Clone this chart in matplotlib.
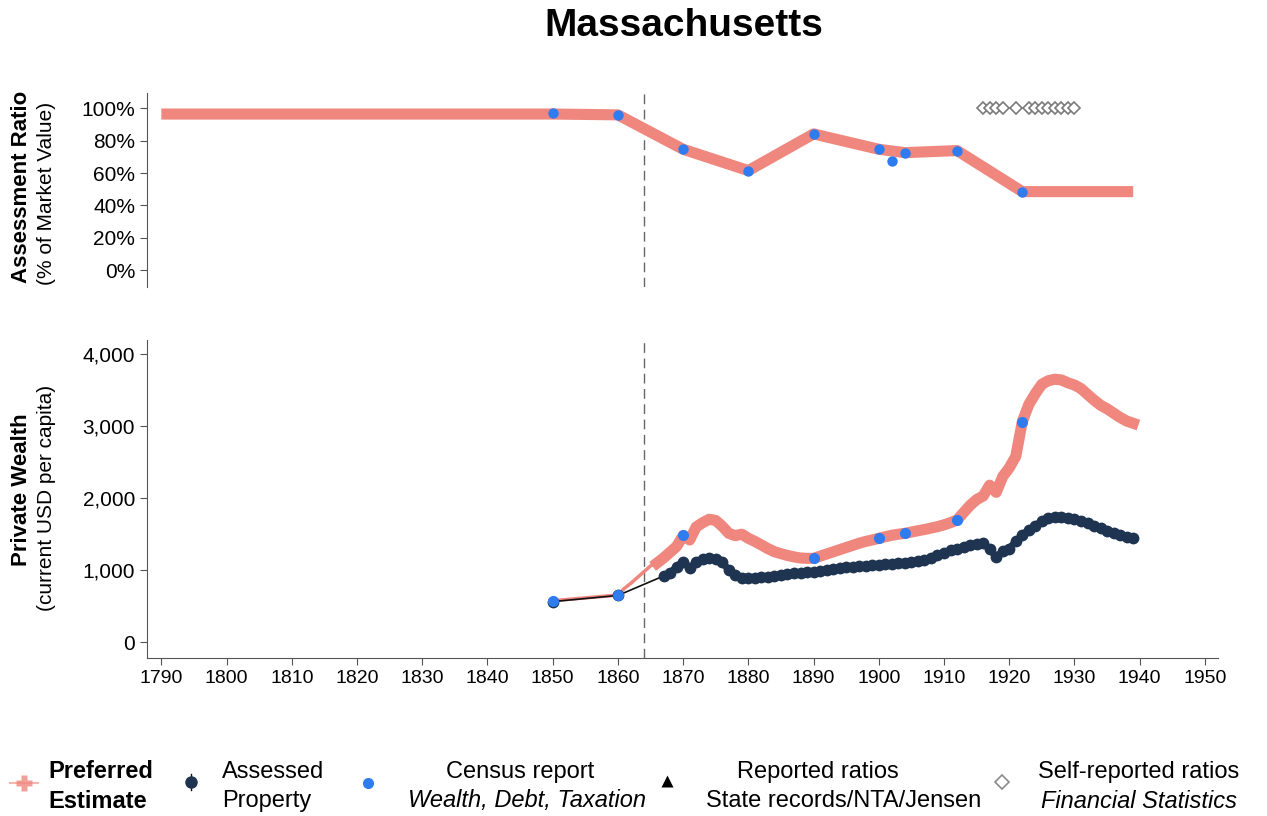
import numpy as np
import matplotlib
matplotlib.use("Agg")
import matplotlib.pyplot as plt

plt.rcParams["font.family"] = ["Liberation Sans", "DejaVu Sans"]

# assessment ratio (% of market value)
ratio_years = [1790, 1850, 1860, 1870, 1880, 1890, 1900, 1904, 1912, 1922, 1939]
ratio_pref = [96.5, 96.5, 96.0, 74.7, 61.5, 84.2, 74.7, 72.6, 73.9, 48.5, 48.5]

census_ratio_years = [1850, 1860, 1870, 1880, 1890, 1900, 1902, 1904, 1912, 1922]
census_ratio = [97.0, 96.0, 74.7, 61.5, 84.2, 74.7, 67.7, 72.6, 73.9, 48.5]

self_rep_years = [1916, 1917, 1918, 1919, 1921, 1923, 1924, 1925, 1926, 1927, 1928, 1929, 1930]
self_rep_ratio = [100] * len(self_rep_years)

# private wealth, current USD per capita
wealth_years = [1850, 1860] + list(range(1861, 1940))
wealth_pref = [577, 656,
               749, 820, 900, 980, 1060, 1100, 1170, 1250, 1330,      # 1861-1869
               1480, 1420, 1600, 1660, 1707, 1690, 1610, 1512, 1480, 1500,  # 1870-1879
               1443, 1400, 1350, 1300, 1257, 1230, 1205, 1185, 1170, 1165,  # 1880-1889
               1165, 1195, 1225, 1255, 1285, 1315, 1345, 1375, 1400, 1420,  # 1890-1899
               1443, 1465, 1485, 1500, 1512, 1530, 1548, 1565, 1585, 1605,  # 1900-1909
               1630, 1660, 1697, 1800, 1900, 1980, 2030, 2180, 2080, 2300,  # 1910-1919
               2420, 2580, 3061, 3300, 3450, 3580, 3630, 3650, 3640, 3600,  # 1920-1929
               3570, 3520, 3440, 3360, 3290, 3240, 3180, 3120, 3070, 3039]  # 1930-1939

assessed_years = [1850, 1860] + list(range(1867, 1940))
assessed = [565, 650,
            920, 960, 1050,                                              # 1867-1869
            1118, 1031, 1110, 1150, 1170, 1160, 1110, 1003, 930, 895,   # 1870-1879
            888, 892, 900, 910, 925, 935, 945, 958, 968, 975,           # 1880-1889
            980, 992, 1005, 1018, 1030, 1040, 1050, 1058, 1065, 1070,   # 1890-1899
            1073, 1080, 1088, 1095, 1105, 1115, 1125, 1140, 1170, 1205, # 1900-1909
            1240, 1275, 1300, 1320, 1345, 1370, 1375, 1290, 1190, 1260, # 1910-1919
            1300, 1400, 1489, 1560, 1620, 1680, 1720, 1745, 1735, 1720, # 1920-1929
            1705, 1690, 1650, 1610, 1580, 1550, 1520, 1490, 1465, 1443] # 1930-1939

census_wealth_years = [1850, 1860, 1870, 1890, 1900, 1904, 1912, 1922]
census_wealth = [577, 656, 1489, 1165, 1443, 1512, 1697, 3061]

war_year = 1864
x_ticks = list(range(1790, 1951, 10))

pink = "#F0877E"
navy = "#1E3450"
blue = "#2E7CF0"

fig = plt.figure(figsize=(12.67, 8.16), dpi=100)
ax_top = fig.add_axes([0.116, 0.6483, 0.8453, 0.2377])
ax_bot = fig.add_axes([0.116, 0.1936, 0.8453, 0.3897])

for ax in (ax_top, ax_bot):
    ax.set_xlim(1787.8, 1952)
    ax.spines["top"].set_visible(False)
    ax.spines["right"].set_visible(False)
    ax.axvline(war_year, color="#666666", lw=1, ls=(0, (7, 4)), zorder=1)
    ax.tick_params(axis="y", labelsize=15, length=5, width=0.8, color="#555555")
    ax.spines["left"].set_color("#555555")

# top panel: assessment ratios
ax_top.plot(ratio_years, ratio_pref, color=pink, lw=8, solid_capstyle="butt", zorder=2)
ax_top.plot(census_ratio_years, census_ratio, "o", color=blue, ms=7.5, mec="none", zorder=4)
ax_top.plot(self_rep_years, self_rep_ratio, "D", ms=6.5, mfc="white", mec="#7a7a7a",
            mew=1.2, ls="none", zorder=3)
ax_top.set_ylim(-10.5, 109.5)
ax_top.set_yticks([0, 20, 40, 60, 80, 100])
ax_top.set_yticklabels(["0%", "20%", "40%", "60%", "80%", "100%"])
ax_top.spines["bottom"].set_visible(False)
ax_top.set_xticks([])

# bottom panel: private wealth
wy = np.array(wealth_years)
wp = np.array(wealth_pref)
thick = wy >= 1866
ax_bot.plot(wy, wp, color=pink, lw=2.5, zorder=2)
ax_bot.plot(wy[thick], wp[thick], color=pink, lw=8, zorder=2)
ax_bot.plot(assessed_years, assessed, color="#111111", lw=1.2, zorder=3)
ay = np.array(assessed_years)
av = np.array(assessed)
late = ay >= 1867
ax_bot.plot(ay[late], av[late], color=navy, lw=5, zorder=3)
ax_bot.plot(assessed_years, assessed, "o", color=navy, ms=8.5, mec="none", zorder=3)
ax_bot.plot(census_wealth_years, census_wealth, "o", color=blue, ms=8, mec="none", zorder=4)
ax_bot.set_ylim(-218, 4194)
ax_bot.set_yticks([0, 1000, 2000, 3000, 4000])
ax_bot.set_yticklabels(["0", "1,000", "2,000", "3,000", "4,000"])
ax_bot.set_xticks(x_ticks)
ax_bot.tick_params(axis="x", labelsize=14, length=5, width=0.8, color="#555555")
ax_bot.spines["bottom"].set_color("#555555")

# axis titles
fig.text(22 / 1267, 1 - 187 / 816, "Assessment Ratio", rotation=90, ha="center",
         va="center", fontsize=16, fontweight="bold")
fig.text(47 / 1267, 1 - 193 / 816, "(% of Market Value)", rotation=90, ha="center",
         va="center", fontsize=15)
fig.text(22 / 1267, 1 - 490 / 816, "Private Wealth", rotation=90, ha="center",
         va="center", fontsize=16, fontweight="bold")
fig.text(47 / 1267, 1 - 498 / 816, "(current USD per capita)", rotation=90, ha="center",
         va="center", fontsize=15)
fig.text(684 / 1267, 1 - 26 / 816, "Massachusetts", ha="center", va="center",
         fontsize=28, fontweight="bold")

# legend row drawn in pixel coordinates
leg = fig.add_axes([0, 0, 1, 90 / 816])
leg.set_xlim(0, 1267)
leg.set_ylim(816, 726)
leg.axis("off")
leg.plot([10, 38], [783, 783], color=pink, lw=1.5, alpha=0.6)
leg.plot(24, 783, "P", color=pink, ms=11, mec="none", alpha=0.8)
leg.plot([191, 191], [774, 790], color="#111111", lw=1)
leg.plot(191, 782, "o", color=navy, ms=9, mec="none")
leg.plot(368, 783, "o", color=blue, ms=8, mec="none")
leg.plot(667, 781, "^", color="black", ms=9, mec="none")
leg.plot(1002, 782, "D", ms=7, mfc="white", mec="#8a8a8a", mew=1.2)

fs = 17
leg.text(48, 772, "Preferred", fontsize=fs, fontweight="bold", ha="left", va="center")
leg.text(48, 801, "Estimate", fontsize=fs, fontweight="bold", ha="left", va="center")
leg.text(222, 772, "Assessed", fontsize=fs, ha="left", va="center")
leg.text(222, 801, "Property", fontsize=fs, ha="left", va="center")
leg.text(520, 772, "Census report", fontsize=fs, ha="center", va="center")
leg.text(527, 801, "Wealth, Debt, Taxation", fontsize=fs, style="italic", ha="center", va="center")
leg.text(818, 772, "Reported ratios", fontsize=fs, ha="center", va="center")
leg.text(844, 801, "State records/NTA/Jensen", fontsize=fs, ha="center", va="center")
leg.text(1139, 772, "Self-reported ratios", fontsize=fs, ha="center", va="center")
leg.text(1139, 801, "Financial Statistics", fontsize=fs, style="italic", ha="center", va="center")

fig.savefig("out.png", dpi=100)
